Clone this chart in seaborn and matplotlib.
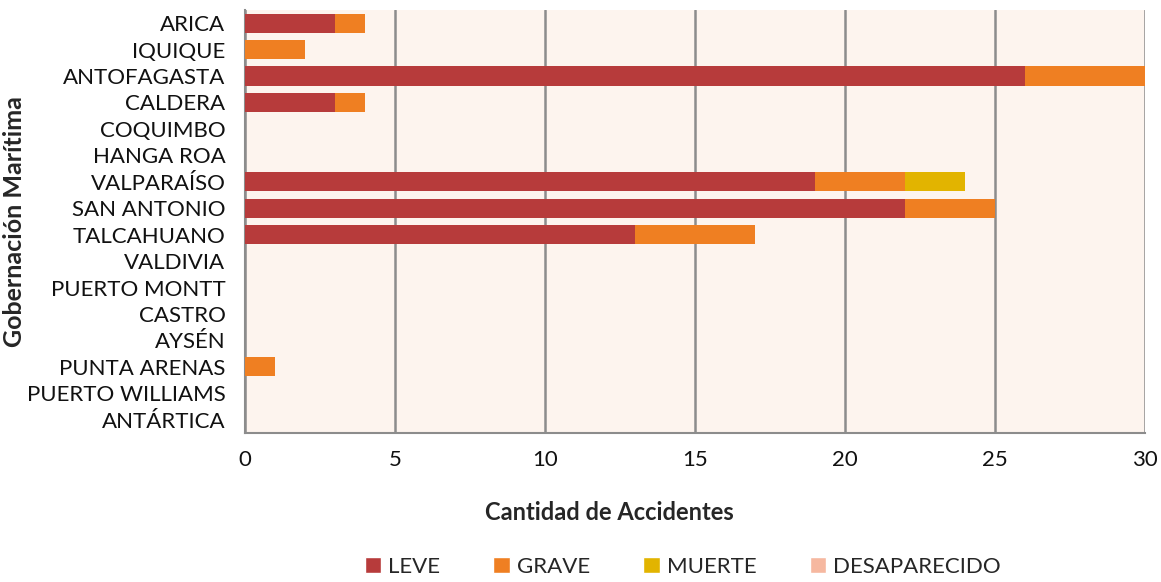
import numpy as np
import pandas as pd
import matplotlib.pyplot as plt
import matplotlib as mpl
import seaborn as sns
from matplotlib.patches import Patch

# data
gobernaciones = ["ARICA", "IQUIQUE", "ANTOFAGASTA", "CALDERA", "COQUIMBO", "HANGA ROA",
                 "VALPARAÍSO", "SAN ANTONIO", "TALCAHUANO", "VALDIVIA", "PUERTO MONTT",
                 "CASTRO", "AYSÉN", "PUNTA ARENAS", "PUERTO WILLIAMS", "ANTÁRTICA"]
leve = [3, 0, 26, 3, 0, 0, 19, 22, 13, 0, 0, 0, 0, 0, 0, 0]
grave = [1, 2, 4, 1, 0, 0, 3, 3, 4, 0, 0, 0, 0, 1, 0, 0]
muerte = [0, 0, 0, 0, 0, 0, 2, 0, 0, 0, 0, 0, 0, 0, 0, 0]
desaparecido = [0] * 16

series = ["LEVE", "GRAVE", "MUERTE", "DESAPARECIDO"]
colores = ["#B73B3B", "#EF7F22", "#E2B400", "#F6B8A0"]

df = pd.DataFrame({"gob": gobernaciones, "LEVE": leve, "GRAVE": grave,
                   "MUERTE": muerte, "DESAPARECIDO": desaparecido})
# cumulative totals so the stack can be drawn back to front
cum = df[series].cumsum(axis=1)

sns.set_style("white")
mpl.rcParams['font.family'] = ['Lato', 'DejaVu Sans']

fig = plt.figure(figsize=(11.61, 5.82), dpi=100)
ax = fig.add_axes([0.211, 0.256, 0.775, 0.727])
ax.set_facecolor("#FDF4EE")

for s, c in reversed(list(zip(series, colores))):
    sns.barplot(x=cum[s], y=df["gob"], color=c, orient="h", width=0.72,
                saturation=1, linewidth=0, ax=ax, zorder=3)

ax.set_xlim(0, 30)
ax.set_ylim(15.5, -0.5)
ax.set_xticks(np.arange(0, 31, 5))
ax.grid(axis="x", color="#8C8C8C", linewidth=1.8, zorder=0)
ax.set_axisbelow(True)

ax.set_yticks(np.arange(-0.5, 16, 1), minor=True)
ax.tick_params(axis="y", which="major", length=0, labelsize=16, pad=14, colors="#111111")
ax.tick_params(axis="y", which="minor", length=6, width=1.2, color="#8C8C8C", direction="out")
ax.tick_params(axis="x", length=6, width=1.2, color="#8C8C8C", direction="out",
               labelsize=16, pad=6, labelcolor="#111111")

for side in ["top", "right"]:
    ax.spines[side].set_visible(False)
for side in ["left", "bottom"]:
    ax.spines[side].set_color("#8C8C8C")
    ax.spines[side].set_linewidth(1.5)

ax.set_xlabel("Cantidad de Accidentes", fontsize=17, fontweight="bold")
ax.set_ylabel("Gobernación Marítima", fontsize=18, fontweight="bold")
ax.xaxis.set_label_coords(0.405, -0.16)
ax.yaxis.set_label_coords(-0.243, 0.5)

handles = [Patch(facecolor=c, label=s) for s, c in zip(series, colores)]
fig.legend(handles=handles, loc="center", bbox_to_anchor=(0.588, 0.026), ncol=4,
           frameon=False, fontsize=16, handlelength=0.75, handleheight=0.75,
           handletextpad=0.3, columnspacing=2.4)

fig.savefig("out.png", dpi=100)
